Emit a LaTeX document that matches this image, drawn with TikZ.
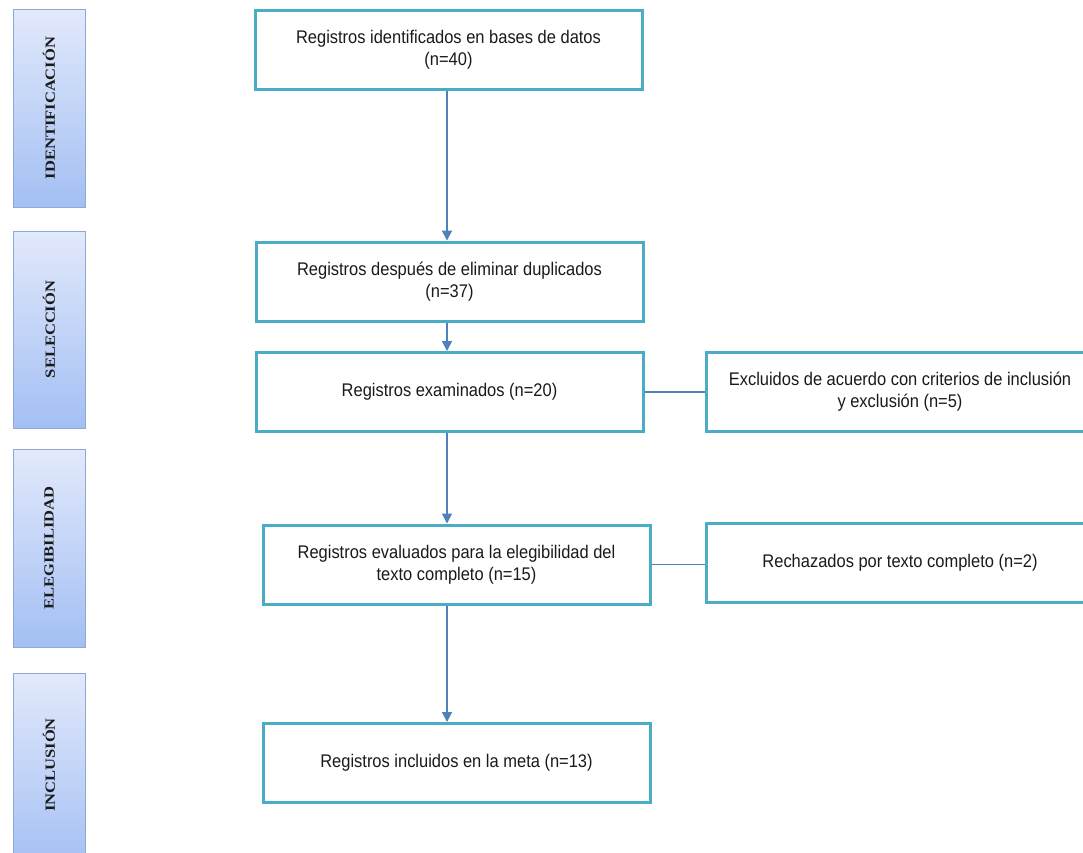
\documentclass[tikz,border=0pt]{standalone}
\usepackage{fontspec}
\setmainfont{Liberation Sans}
\newfontfamily\boxfont[FakeStretch=0.9]{Liberation Sans}
\newfontfamily\barfont[FakeStretch=1.18]{Liberation Serif}
\usetikzlibrary{arrows.meta}
\definecolor{boxc}{HTML}{4BACC6}
\definecolor{arrc}{HTML}{4F81BD}
\definecolor{bartop}{HTML}{E2E9FB}
\definecolor{barbot}{HTML}{A3BFF3}
\definecolor{barline}{HTML}{8FA9D6}
\definecolor{txt}{HTML}{1A1A1A}
\begin{document}
\begin{tikzpicture}[x=1pt,y=-1pt,
  bx/.style={draw=boxc, line width=3pt, fill=white, minimum width=387pt, minimum height=79pt,
    inner sep=0pt, align=center, text=txt, font=\boxfont\fontsize{18.3}{22}\selectfont},
  phase/.style={draw=barline, line width=1pt, top color=bartop, bottom color=barbot},
  phasetext/.style={rotate=90, text=txt, font=\barfont\bfseries\fontsize{14}{16}\selectfont},
  arr/.style={draw=arrc, line width=1.5pt, -{Triangle[width=10pt,length=10pt]}},
  link/.style={draw=arrc, line width=1.5pt}]
\path[use as bounding box, clip] (0,0) rectangle (1083,852);
\fill[white] (0,0) rectangle (1083,852);
% phase bars
\path[phase] (13,9) rectangle (85,207);
\path[phase] (13,231) rectangle (85,428);
\path[phase] (13,449) rectangle (85,647);
\path[phase] (13,673) rectangle (85,870);
\node[phasetext] (p1) at (49,108) {IDENTIFICACIÓN};
\node[phasetext] (p2) at (49,329.5) {SELECCIÓN};
\node[phasetext] (p3) at (49,548) {ELEGIBILIDAD};
\node[phasetext] (p4) at (49,765) {INCLUSIÓN};
% boxes
\node[bx] (b1) at (448.5,49.5) {Registros identificados en bases de datos\\(n=40)};
\node[bx] (b2) at (449.5,281.5) {Registros después de eliminar duplicados\\(n=37)};
\node[bx] (b3) at (449.5,392) {Registros examinados (n=20)};
\node[bx] (b4) at (456.5,564.5) {Registros evaluados para la elegibilidad del\\texto completo (n=15)};
\node[bx] (b5) at (456.5,763) {Registros incluidos en la meta (n=13)};
\node[bx] (ex) at (900,392) {Excluidos de acuerdo con criterios de inclusión\\y exclusión (n=5)};
\node[bx] (re) at (900,563) {Rechazados por texto completo (n=2)};
% connectors
\coordinate (ax) at (447,0);
\draw[arr] (b1.south -| ax) -- (b2.north -| ax);
\draw[arr] (b2.south -| ax) -- (b3.north -| ax);
\draw[arr] (b3.south -| ax) -- (b4.north -| ax);
\draw[arr] (b4.south -| ax) -- (b5.north -| ax);
\draw[link] (b3.east) -- (ex.west);
\draw[link] (b4.east) -- (b4.east -| re.west);
\end{tikzpicture}
\end{document}
